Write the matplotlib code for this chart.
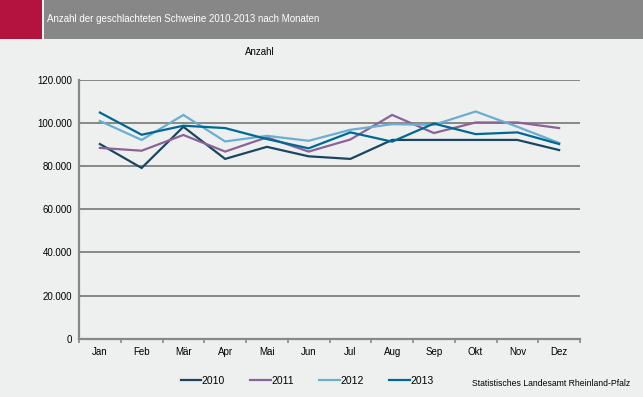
import numpy as np
import matplotlib
matplotlib.use("Agg")
import matplotlib.pyplot as plt
from matplotlib.patches import Rectangle
from matplotlib.ticker import FuncFormatter, FixedLocator

# data
months = ["Jan", "Feb", "Mär", "Apr", "Mai", "Jun", "Jul", "Aug", "Sep", "Okt", "Nov", "Dez"]
s2010 = [90300, 79200, 98300, 83400, 89000, 84600, 83400, 92200, 92200, 92200, 92200, 87500]
s2011 = [88500, 87200, 94500, 86800, 93400, 86800, 92400, 103800, 95400, 100300, 100300, 97700]
s2012 = [101000, 92200, 103800, 91500, 94100, 91800, 96900, 99500, 99200, 105400, 98300, 90800]
s2013 = [104900, 94600, 98800, 97700, 92600, 88300, 95700, 91400, 99800, 94900, 95700, 90300]
years = ["2010", "2011", "2012", "2013"]
colors = ["#1b4661", "#8c6396", "#6aaed0", "#006896"]

BG = "#eef0ef"
GRID = "#888888"
plt.rcParams["font.family"] = ["Liberation Sans", "DejaVu Sans"]

fig = plt.figure(figsize=(6.43, 3.97), dpi=100)
fig.patch.set_facecolor(BG)
W, H = 643, 397

# header band
fig.patches.append(Rectangle((0, 1 - 39 / H), 42 / W, 39 / H, transform=fig.transFigure,
                             facecolor="#b5133f", edgecolor="none"))
fig.patches.append(Rectangle((44 / W, 1 - 39 / H), 1 - 44 / W, 39 / H, transform=fig.transFigure,
                             facecolor="#878787", edgecolor="none"))
fig.text(47 / W, 1 - 19.5 / H, "Anzahl der geschlachteten Schweine 2010-2013 nach Monaten",
         color="white", fontsize=7, va="center", ha="left")

ax = fig.add_axes([79 / W, 1 - 338.7 / H, (580 - 79) / W, (338.7 - 80) / H])
ax.set_facecolor(BG)

x = np.arange(len(months))
for data, lab, c in zip([s2010, s2011, s2012, s2013], years, colors):
    ax.plot(x, data, color=c, linewidth=1.6, label=lab, solid_joinstyle="miter")

ax.set_xlim(-0.5, 11.5)
ax.set_ylim(0, 120000)
ax.set_yticks(np.arange(0, 120001, 20000))
ax.yaxis.set_major_formatter(FuncFormatter(lambda v, p: f"{int(v):,}".replace(",", ".")))
ax.yaxis.grid(True, color=GRID, linewidth=1.4)
ax.set_axisbelow(True)

ax.set_xticks(x)
ax.set_xticklabels(months)
ax.xaxis.set_minor_locator(FixedLocator(np.arange(-0.5, 12, 1)))
ax.tick_params(axis="x", which="major", length=0, pad=6, labelsize=7)
ax.tick_params(axis="x", which="minor", length=3, width=1.2, color=GRID, direction="out")
ax.tick_params(axis="y", length=0, pad=5, labelsize=7)

for sp in ["top", "right"]:
    ax.spines[sp].set_visible(False)
for sp in ["left", "bottom"]:
    ax.spines[sp].set_color(GRID)
    ax.spines[sp].set_linewidth(1.6)

fig.text(260 / W, 1 - 52 / H, "Anzahl", fontsize=7, ha="center", va="center")

fig.legend(loc="center", bbox_to_anchor=(307 / W, 1 - 381 / H), ncol=4, frameon=False,
           fontsize=7.5, handlelength=2.0, handletextpad=0.05, columnspacing=2.4)

fig.text(630 / W, 1 - 383 / H, "Statistisches Landesamt Rheinland-Pfalz", fontsize=6.2,
         ha="right", va="center")

fig.savefig("out.png", dpi=100, facecolor=fig.get_facecolor())
